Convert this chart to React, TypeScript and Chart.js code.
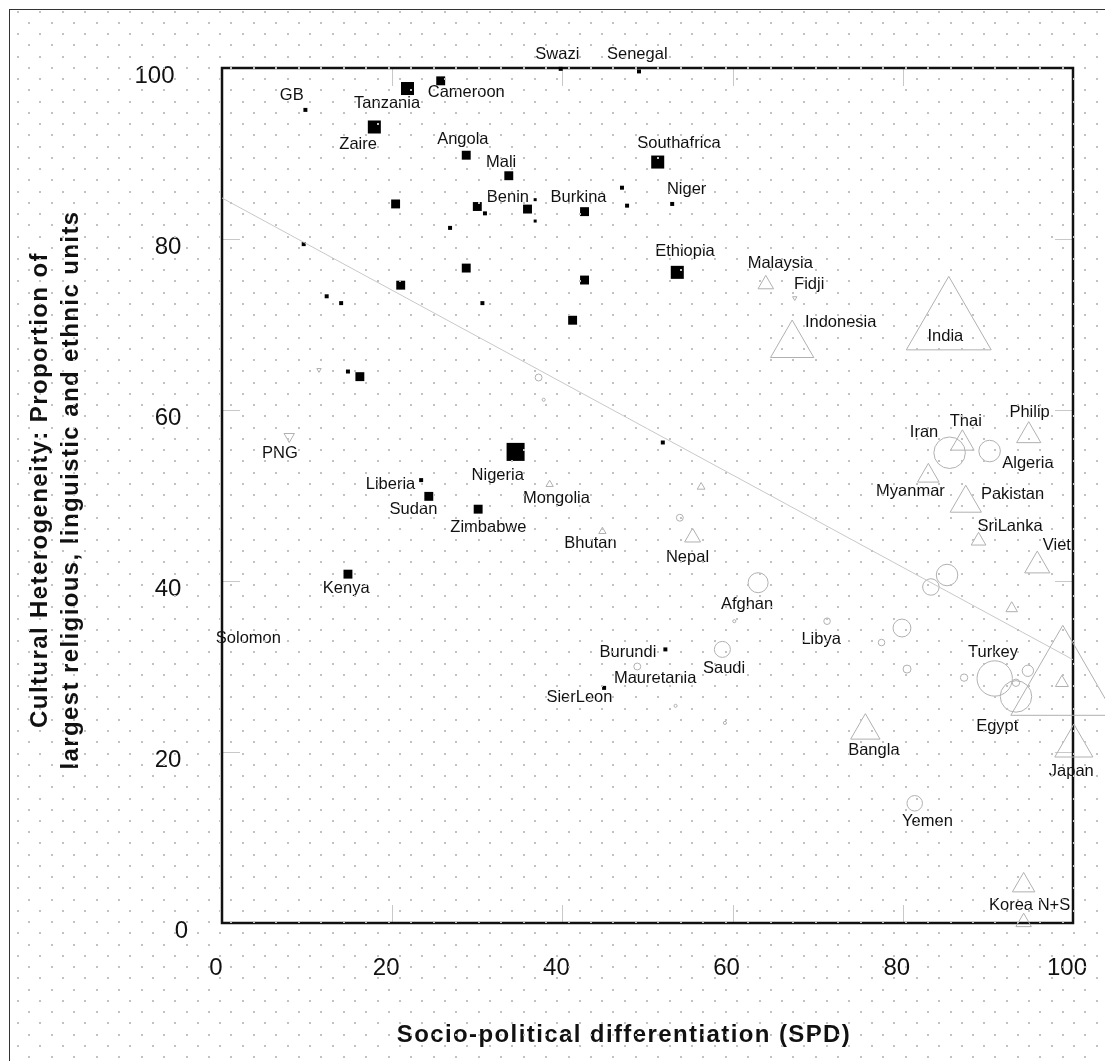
import { useEffect, useRef } from "react";
import { Chart, registerables } from "chart.js";

Chart.register(...registerables);

// Axis ticks (both axes run 0..100)
const xTicks = [0, 20, 40, 60, 80, 100];
const yTicks = [0, 20, 40, 60, 80, 100];

// [SPD, heterogeneity, population in millions] — filled squares
const squareCountries: [number, number, number][] = [
  [9.8, 95.1, 4.4], [21.8, 97.6, 47], [25.7, 98.5, 22], [17.9, 93.1, 47],
  [28.7, 89.8, 22], [20.4, 84.1, 22], [30.0, 83.8, 22], [30.9, 83.0, 4.4],
  [26.8, 81.3, 4.4], [9.6, 79.4, 4.4], [28.7, 76.6, 22], [21.0, 74.6, 22],
  [12.3, 73.3, 4.4], [14.0, 72.5, 4.4], [30.6, 72.5, 4.4], [14.8, 64.5, 4.4],
  [16.2, 63.9, 22], [23.4, 51.8, 4.4], [24.3, 49.9, 22], [30.1, 48.4, 22],
  [14.8, 40.8, 22], [39.8, 99.9, 4.4], [49.0, 99.6, 4.4], [33.7, 87.4, 22],
  [51.2, 89.0, 47], [47.0, 86.0, 4.4], [47.6, 83.9, 4.4], [52.9, 84.1, 4.4],
  [36.8, 84.6, 2.5], [36.8, 82.1, 2.5], [35.9, 83.5, 22], [42.6, 83.2, 22],
  [42.6, 75.2, 22], [53.5, 76.1, 47], [41.2, 70.5, 22], [34.5, 55.1, 90],
  [51.8, 56.2, 4.4], [52.1, 32.0, 4.4], [44.9, 27.5, 4.4],
];

// [SPD, heterogeneity, population] — open triangles
const triangleCountries: [number, number, number][] = [
  [63.9, 74.7, 20], [67.0, 67.6, 156], [85.4, 69.9, 600], [94.8, 57.0, 49],
  [87.0, 56.1, 46], [83.0, 52.3, 39], [87.4, 49.1, 81], [88.9, 44.7, 18],
  [95.8, 41.8, 53], [92.8, 36.8, 11], [98.8, 27.8, 900], [98.7, 28.1, 14],
  [100.1, 20.7, 121], [75.6, 22.5, 72], [94.2, 4.4, 42], [94.2, 0.1, 20],
  [38.5, 51.3, 4.4], [56.3, 51.0, 5], [44.7, 45.8, 4.4], [55.3, 45.1, 21],
];

// [SPD, heterogeneity, population] — open inverted triangles
const invertedCountries: [number, number, number][] = [
  [7.9, 56.9, 9], [11.4, 64.7, 1.6], [67.3, 73.1, 1.6],
];

// [SPD, heterogeneity, population] — open circles
const circleCountries: [number, number, number][] = [
  [85.5, 55.0, 62], [90.2, 55.2, 29], [85.2, 40.7, 29], [83.3, 39.3, 17],
  [63.0, 39.8, 25], [79.9, 34.5, 20], [80.5, 29.7, 4], [87.2, 28.7, 3.4],
  [90.8, 28.6, 78], [93.3, 28.1, 3.4], [94.7, 29.5, 8], [93.3, 26.5, 62],
  [81.4, 14.0, 15], [58.8, 32.0, 16], [48.8, 30.0, 3], [37.2, 63.8, 3],
  [37.8, 61.2, 0.6], [53.8, 47.4, 3], [60.2, 35.3, 0.6], [53.3, 25.4, 0.6],
  [59.1, 23.4, 0.6], [71.1, 35.3, 2.7], [77.5, 32.8, 2.7],
];

// Least-squares fit endpoints
const fitLine = [
  { x: 0, y: 84.8 },
  { x: 100, y: 30.8 },
];

// [name, SPD, heterogeneity]
const countryLabels: [string, number, number][] = [
  ["GB", 8.2, 96.8], ["Tanzania", 19.4, 95.8], ["Cameroon", 28.7, 97.1],
  ["Zaire", 16.0, 91.0], ["Angola", 28.3, 91.6], ["Mali", 32.8, 88.9],
  ["Benin", 33.6, 84.9], ["Burkina", 41.9, 84.9], ["Southafrica", 53.7, 91.2],
  ["Niger", 54.6, 85.8], ["Ethiopia", 54.4, 78.6], ["Malaysia", 65.6, 77.1],
  ["Fidji", 69.0, 74.7], ["Indonesia", 72.7, 70.2], ["India", 85.0, 68.6],
  ["Swazi", 39.4, 101.6], ["Senegal", 48.8, 101.6], ["PNG", 6.8, 54.9],
  ["Liberia", 19.8, 51.3], ["Sudan", 22.5, 48.4], ["Nigeria", 32.4, 52.3],
  ["Mongolia", 39.3, 49.6], ["Zimbabwe", 31.3, 46.3], ["Bhutan", 43.3, 44.4],
  ["Nepal", 54.7, 42.8], ["Kenya", 14.6, 39.1], ["Solomon", 3.1, 33.3],
  ["Afghan", 61.7, 37.3], ["Libya", 70.4, 33.2], ["Burundi", 47.7, 31.7],
  ["Saudi", 59.0, 29.8], ["Mauretania", 50.9, 28.6], ["SierLeon", 42.0, 26.4],
  ["Iran", 82.5, 57.4], ["Thai", 87.4, 58.7], ["Philip", 94.9, 59.7],
  ["Algeria", 94.7, 53.8], ["Myanmar", 80.9, 50.5], ["Pakistan", 92.9, 50.1],
  ["SriLanka", 92.6, 46.4], ["Viet", 98.1, 44.1], ["Turkey", 90.6, 31.7],
  ["Egypt", 91.1, 23.0], ["Bangla", 76.6, 20.2], ["Japan", 99.8, 17.7],
  ["Yemen", 82.9, 11.9], ["Korea N+S", 94.9, 2.0],
];

const xTitle = "Socio-political differentiation (SPD)";
const yTitle = [
  "Cultural Heterogeneity: Proportion of",
  "largest religious, linguistic and ethnic units",
];

const W = 1105;
const H = 1061;
const FONT = '"Liberation Sans", Arial, Helvetica, sans-serif';
const OPEN_GREY = "#b0b0b0";

const toPoints = (rows: [number, number, number][]) =>
  rows.map(([x, y, p]) => ({ x, y, p }));

// marker sizes grow with the square root of population
const squareRadius = (p: number) => (1.9 * Math.sqrt(p)) / Math.SQRT2;
const openRadius = (p: number) => 2 * Math.sqrt(p);

const decor = {
  id: "decor",
  beforeDatasetsDraw(chart: any) {
    const { ctx, chartArea: a, scales } = chart;
    const xs = scales.x;
    const ys = scales.y;
    ctx.save();
    // inward tick marks on all four sides
    ctx.strokeStyle = "#c8c8c8";
    ctx.lineWidth = 1;
    const len = 18;
    ctx.beginPath();
    for (const v of xTicks.slice(1, -1)) {
      const px = Math.round(xs.getPixelForValue(v)) + 0.5;
      ctx.moveTo(px, a.bottom);
      ctx.lineTo(px, a.bottom - len);
      ctx.moveTo(px, a.top);
      ctx.lineTo(px, a.top + len);
    }
    for (const v of yTicks.slice(1, -1)) {
      const py = Math.round(ys.getPixelForValue(v)) + 0.5;
      ctx.moveTo(a.left, py);
      ctx.lineTo(a.left + len, py);
      ctx.moveTo(a.right, py);
      ctx.lineTo(a.right - len, py);
    }
    ctx.stroke();
    // plot frame
    ctx.strokeStyle = "#111";
    ctx.lineWidth = 2.5;
    ctx.strokeRect(a.left, a.top, a.right - a.left, a.bottom - a.top);
    ctx.restore();
  },
  afterDatasetsDraw(chart: any) {
    const { ctx, scales } = chart;
    const xs = scales.x;
    const ys = scales.y;
    ctx.save();
    ctx.fillStyle = "#111";

    // tick labels
    ctx.font = `24px ${FONT}`;
    ctx.textAlign = "center";
    ctx.textBaseline = "alphabetic";
    for (const v of xTicks) {
      ctx.fillText(String(v), xs.getPixelForValue(v) - 6, 975);
    }
    for (const v of yTicks) {
      const s = String(v);
      ctx.fillText(s, 195 - 13.5 * s.length, ys.getPixelForValue(v) + 14.6);
    }

    // country names
    ctx.font = `16.5px ${FONT}`;
    ctx.textBaseline = "middle";
    for (const [name, x, y] of countryLabels) {
      ctx.fillText(name, xs.getPixelForValue(x), ys.getPixelForValue(y));
    }

    // axis titles
    ctx.font = `bold 24px ${FONT}`;
    ctx.textBaseline = "alphabetic";
    (ctx as any).letterSpacing = "1.4px";
    ctx.fillText(xTitle, 624, 1042);
    const baselines = [47, 78];
    yTitle.forEach((line, i) => {
      ctx.save();
      ctx.translate(baselines[i], 490);
      ctx.rotate(-Math.PI / 2);
      ctx.fillText(line, 0, 0);
      ctx.restore();
    });
    ctx.restore();
  },
  afterDraw(chart: any) {
    const { ctx } = chart;
    ctx.save();
    // outer border (top and left edges)
    ctx.fillStyle = "#333";
    ctx.fillRect(9, 9, W - 9, 1);
    ctx.fillRect(9, 9, 1, H - 9);
    // dotted paper texture over the whole figure
    ctx.fillStyle = "#c2c2c2";
    const dy = 11.24;
    const dx = 22.47;
    for (let n = 0; 11.7 + n * dy < H; n++) {
      const y = Math.round(11.7 + n * dy);
      const start = n % 2 === 0 ? 18 : 18 + dx / 2;
      for (let x = start; x < W; x += dx) {
        ctx.fillRect(Math.round(x) - 1, y - 1, 2, 2);
      }
    }
    ctx.restore();
  },
};

export default function App() {
  const ref = useRef<HTMLCanvasElement | null>(null);

  useEffect(() => {
    if (!ref.current) return;
    const chart = new Chart(ref.current, {
      type: "scatter",
      data: {
        datasets: [
          {
            type: "line",
            data: fitLine,
            borderColor: "#c8c8c8",
            borderWidth: 1,
            pointRadius: 0,
            fill: false,
            clip: false,
          } as any,
          {
            data: toPoints(squareCountries),
            pointStyle: "rect",
            backgroundColor: "#000",
            borderWidth: 0,
            pointRadius: (c: any) => squareRadius(c.raw.p),
            clip: false,
          },
          {
            data: toPoints(triangleCountries),
            pointStyle: "triangle",
            backgroundColor: "rgba(0,0,0,0)",
            borderColor: OPEN_GREY,
            borderWidth: 1,
            pointRadius: (c: any) => openRadius(c.raw.p),
            clip: false,
          },
          {
            data: toPoints(invertedCountries),
            pointStyle: "triangle",
            rotation: 180,
            backgroundColor: "rgba(0,0,0,0)",
            borderColor: OPEN_GREY,
            borderWidth: 1,
            pointRadius: (c: any) => openRadius(c.raw.p),
            clip: false,
          },
          {
            data: toPoints(circleCountries),
            pointStyle: "circle",
            backgroundColor: "rgba(0,0,0,0)",
            borderColor: OPEN_GREY,
            borderWidth: 1,
            pointRadius: (c: any) => openRadius(c.raw.p),
            clip: false,
          },
        ] as any,
      },
      options: {
        animation: false,
        responsive: false,
        devicePixelRatio: 1,
        events: [],
        layout: {
          autoPadding: false,
          padding: { left: 222, top: 68, right: W - 1073, bottom: H - 923 },
        },
        scales: {
          x: { type: "linear", min: 0, max: 100, display: false },
          y: { type: "linear", min: 0, max: 100, display: false },
        },
        plugins: {
          legend: { display: false },
          tooltip: { enabled: false },
        },
      },
      plugins: [decor],
    });
    return () => chart.destroy();
  }, []);

  return (
    <div style={{ position: "fixed", left: 0, top: 0, width: W, height: H, overflow: "hidden", background: "#fff" }}>
      <canvas ref={ref} width={W} height={H} style={{ display: "block" }} />
    </div>
  );
}
